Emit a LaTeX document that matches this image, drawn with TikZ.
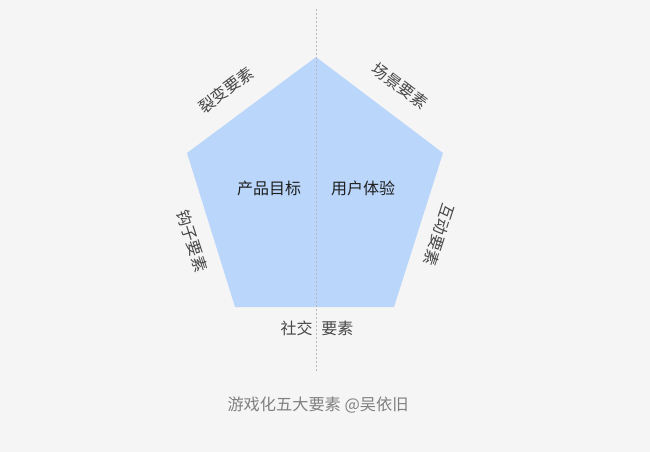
\documentclass[tikz,border=0pt]{standalone}
\usepackage{fontspec}
\setmainfont{Noto Sans CJK SC}
\begin{document}
\begin{tikzpicture}[x=1pt,y=-1pt,
  lbl/.style={font=\fontsize{16}{20}\selectfont, text=black!72, inner sep=0pt},
  ctr/.style={font=\fontsize{16}{20}\selectfont, text=black!88, inner sep=0pt},
  captext/.style={font=\fontsize{16.2}{20}\selectfont, text=black!50, inner sep=0pt},
  axis/.style={draw=black!28, dash pattern=on 2pt off 2pt, line width=0.6pt}]
\definecolor{bg}{HTML}{F5F5F5}
\definecolor{pent}{HTML}{BAD7FB}
\fill[bg] (0,0) rectangle (650,452);
\useasboundingbox (0,0) rectangle (650,452);
\coordinate (A) at (316,57);
\coordinate (B) at (443,153);
\coordinate (C) at (394,307);
\coordinate (D) at (235,307);
\coordinate (E) at (187,153);
\fill[pent] (A) -- (B) -- (C) -- (D) -- (E) -- cycle;
\coordinate (top) at (316,9);
\coordinate (bot) at (316,372);
\draw[axis] (top) -- (bot);
\node[ctr] (goal) at (269,188) {产品目标};
\node[ctr] (ux) at (363,188) {用户体验};
\node[lbl, rotate=37] (fission) at (226,90) {裂变要素};
\node[lbl, rotate=-37] (scene) at (400,86) {场景要素};
\node[lbl, rotate=-72] (hook) at (192,241) {钩子要素};
\node[lbl, rotate=-108] (inter) at (439,235) {互动要素};
\node[lbl] (social) at (317,328) {社交\hspace{9pt}要素};
\node[captext] (caption) at (318,405) {游戏化五大要素 @吴依旧};
\end{tikzpicture}
\end{document}
